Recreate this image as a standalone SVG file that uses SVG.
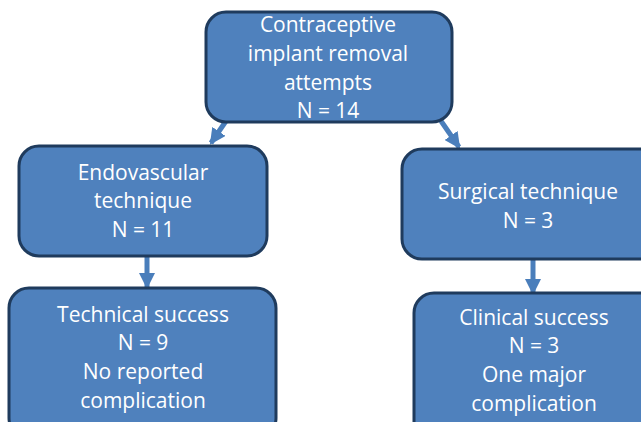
<svg xmlns="http://www.w3.org/2000/svg" width="641" height="422" viewBox="0 0 641 422">
<style>
.box{fill:#4f81bd;stroke:#1f3b5d;stroke-width:3}
.t{fill:#ffffff;font-family:"Open Sans","DejaVu Sans",sans-serif;font-size:21px;text-anchor:middle}
.c{stroke:#4a7ebb;stroke-width:5;fill:none}
</style>
<defs>
<marker id="ah" markerUnits="userSpaceOnUse" viewBox="0 0 16 16" refX="14" refY="8" markerWidth="16" markerHeight="16" orient="auto">
<path d="M0,0 L16,8 L0,16 z" fill="#4a7ebb"/>
</marker>
</defs>
<rect width="641" height="422" fill="#ffffff"/>
<g id="connectors">
<line class="c" x1="226" y1="121" x2="211" y2="143" marker-end="url(#ah)"/>
<line class="c" x1="441" y1="121" x2="459" y2="147" marker-end="url(#ah)"/>
<line class="c" x1="147" y1="256" x2="147" y2="287" marker-end="url(#ah)"/>
<line class="c" x1="533" y1="259" x2="533" y2="293" marker-end="url(#ah)"/>
</g>
<g id="n_top">
<rect class="box" x="206" y="12" width="246" height="110" rx="20"/>
<text class="t" x="328" y="32">Contraceptive</text>
<text class="t" x="328" y="61">implant removal</text>
<text class="t" x="328" y="90">attempts</text>
<text class="t" x="328" y="118">N = 14</text>
</g>
<g id="n_endo">
<rect class="box" x="19" y="146" width="248" height="110" rx="20"/>
<text class="t" x="143" y="180">Endovascular</text>
<text class="t" x="143" y="208">technique</text>
<text class="t" x="143" y="237">N = 11</text>
</g>
<g id="n_surg">
<rect class="box" x="402" y="149" width="260" height="110" rx="20"/>
<text class="t" x="528" y="199">Surgical technique</text>
<text class="t" x="528" y="228">N = 3</text>
</g>
<g id="n_tech">
<rect class="box" x="9" y="288" width="267" height="150" rx="20"/>
<text class="t" x="143" y="322">Technical success</text>
<text class="t" x="143" y="350">N = 9</text>
<text class="t" x="143" y="379">No reported</text>
<text class="t" x="143" y="408">complication</text>
</g>
<g id="n_clin">
<rect class="box" x="414" y="293" width="260" height="150" rx="20"/>
<text class="t" x="534" y="325">Clinical success</text>
<text class="t" x="534" y="353">N = 3</text>
<text class="t" x="534" y="382">One major</text>
<text class="t" x="534" y="411">complication</text>
</g>
</svg>
